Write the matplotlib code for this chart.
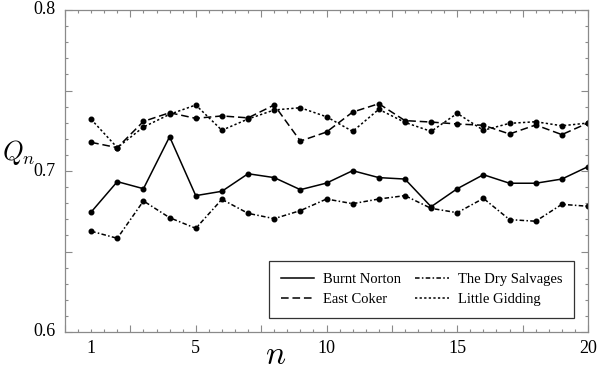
import matplotlib
matplotlib.use("Agg")
import matplotlib.pyplot as plt
from matplotlib.ticker import MultipleLocator, NullFormatter
import matplotlib.transforms as mtransforms

n = list(range(1, 21))
burnt_norton = [0.6745, 0.6934, 0.6890, 0.7213, 0.6847, 0.6874, 0.6983, 0.6959, 0.6884, 0.6925,
                0.7002, 0.6959, 0.6950, 0.6778, 0.6890, 0.6977, 0.6924, 0.6924, 0.6950, 0.7027]
east_coker = [0.7178, 0.7145, 0.7308, 0.7362, 0.7327, 0.7342, 0.7330, 0.7410, 0.7186, 0.7242,
              0.7366, 0.7418, 0.7313, 0.7304, 0.7292, 0.7284, 0.7230, 0.7286, 0.7226, 0.7298]
dry_salvages = [0.6626, 0.6582, 0.6814, 0.6710, 0.6644, 0.6824, 0.6737, 0.6704, 0.6754, 0.6826,
                0.6797, 0.6826, 0.6847, 0.6768, 0.6741, 0.6830, 0.6698, 0.6688, 0.6793, 0.6781]
little_gidding = [0.7321, 0.7145, 0.7273, 0.7352, 0.7410, 0.7253, 0.7323, 0.7379, 0.7393, 0.7337,
                  0.7246, 0.7383, 0.7302, 0.7246, 0.7358, 0.7253, 0.7296, 0.7306, 0.7281, 0.7298]
x_labels = [1, 5, 10, 15, 20]
y_labels = [0.6, 0.7, 0.8]

plt.rcParams['mathtext.fontset'] = 'cm'
serif = ['Liberation Serif', 'DejaVu Serif']

fig = plt.figure(figsize=(6.0, 3.73), dpi=100)
ax = fig.add_axes([65/600, 1-332/373, (588-65)/600, (332-10)/373])

kw = dict(color='black', lw=1.1, marker='o', ms=3.3)
ax.plot(n, burnt_norton, ls='-', label='Burnt Norton', **kw)
ax.plot(n, east_coker, ls=(0, (5, 2.5)), label='East Coker', **kw)
ax.plot(n, dry_salvages, ls=(0, (3, 1.5, 1, 1.5)), label='The Dry Salvages', **kw)
ax.plot(n, little_gidding, ls=(0, (1.5, 1.5)), label='Little Gidding', **kw)

ax.set_xlim(0, 20)
ax.set_ylim(0.6, 0.8)

gray = '#8a8a8a'
for s in ax.spines.values():
    s.set_color(gray)
    s.set_linewidth(0.9)

ax.xaxis.set_major_locator(MultipleLocator(2.5))
ax.xaxis.set_minor_locator(MultipleLocator(0.5))
ax.xaxis.set_major_formatter(NullFormatter())
ax.yaxis.set_major_locator(MultipleLocator(0.05))
ax.yaxis.set_minor_locator(MultipleLocator(0.01))
ax.yaxis.set_major_formatter(NullFormatter())
ax.tick_params(which='both', direction='in', top=True, right=True, color=gray, width=0.8)
ax.tick_params(which='major', length=5)
ax.tick_params(which='minor', length=2.5)

tx = mtransforms.blended_transform_factory(ax.transData, ax.transAxes)
for v in x_labels:
    ax.text(v, -0.025, str(v), transform=tx, ha='center', va='top', fontsize=13, family=serif)
ty = mtransforms.blended_transform_factory(ax.transAxes, ax.transData)
for v in y_labels:
    ax.text(-0.018, v, f"{v:.1f}", transform=ty, ha='right', va='center', fontsize=13, family=serif)

fig.text(19/600, 1-152/373, r'$Q_n$', fontsize=19, ha='center', va='center')
fig.text(276/600, 1-355/373, r'$n$', fontsize=24, ha='center', va='center')

leg = ax.legend(ncol=2, loc='lower right', bbox_to_anchor=(0.973, 0.043), borderaxespad=0,
                prop={'family': serif, 'size': 10.5}, frameon=True, fancybox=False,
                edgecolor='black', handlelength=2.3, columnspacing=1.0,
                handletextpad=0.6, borderpad=0.8, labelspacing=0.5, markerscale=0)
leg.get_frame().set_linewidth(0.9)
for h in leg.get_lines():
    h.set_marker('')

fig.savefig('out.png', dpi=100)
